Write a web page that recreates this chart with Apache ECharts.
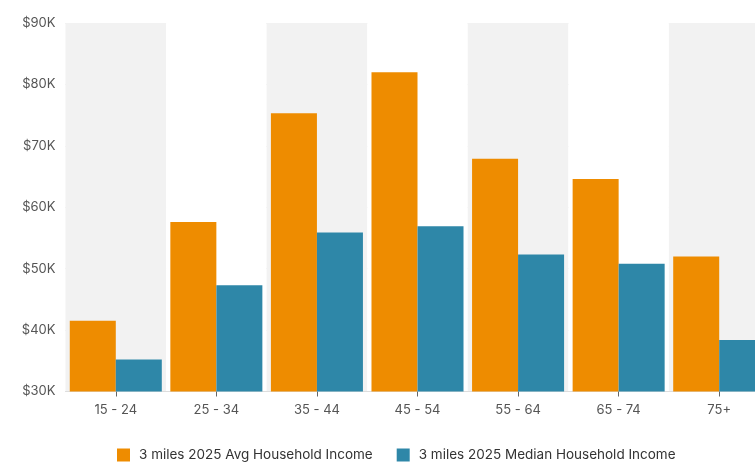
<!DOCTYPE html>
<html><head><meta charset="utf-8">
<script src="https://cdn.jsdelivr.net/npm/echarts@6/dist/echarts.min.js"></script>
<style>html,body{margin:0;padding:0;background:#fff;overflow:hidden;width:755px;height:462px}#c{width:770px;height:462px}</style>
</head><body><div id="c"></div>
<script>
const categories = ['15 - 24', '25 - 34', '35 - 44', '45 - 54', '55 - 64', '65 - 74', '75+'];
const avgIncome = [41500, 57600, 75300, 82000, 67900, 64600, 52000];
const medianIncome = [35200, 47300, 55900, 56900, 52300, 50800, 38400];
const seriesNames = ['3 miles 2025 Avg Household Income', '3 miles 2025 Median Household Income'];
const yTicks = [30000, 40000, 50000, 60000, 70000, 80000, 90000];

const chart = echarts.init(document.getElementById('c'), null, {renderer: 'canvas'});
const font = 'Inter, "Noto Sans", sans-serif';
chart.setOption({
  animation: false,
  textStyle: {fontFamily: font},
  color: ['#EE8C00', '#2E87A8'],
  grid: {left: 65.5, top: 23, right: 0.5, bottom: 70.5, containLabel: false},
  legend: {
    left: 112, top: 443, itemWidth: 13, itemHeight: 13, itemGap: 24,
    icon: 'rect',
    textStyle: {fontSize: 13.5, color: '#333', fontFamily: font, padding: [0, 0, 0, 4]},
    data: seriesNames
  },
  xAxis: {
    type: 'category', data: categories,
    axisLine: {show: true, lineStyle: {color: '#ddd'}},
    axisTick: {show: true, alignWithLabel: true, length: 5, lineStyle: {color: '#666'}},
    axisLabel: {fontSize: 13, color: '#555', margin: 12, fontFamily: font},
    splitArea: {show: true, areaStyle: {color: ['#F2F2F2', '#FFFFFF']}}
  },
  yAxis: {
    type: 'value', min: yTicks[0], max: yTicks[yTicks.length - 1], interval: 10000,
    axisLine: {show: false}, axisTick: {show: false},
    axisLabel: {fontSize: 13, color: '#555', margin: 10, fontFamily: font,
      formatter: v => '$' + (v / 1000) + 'K'},
    splitLine: {show: true, lineStyle: {color: '#E6E6E6', width: 1}}
  },
  series: [
    {name: seriesNames[0], type: 'bar', data: avgIncome, barGap: '0%', barCategoryGap: '8.5%'},
    {name: seriesNames[1], type: 'bar', data: medianIncome, barGap: '0%', barCategoryGap: '8.5%'}
  ]
});
</script></body></html>
